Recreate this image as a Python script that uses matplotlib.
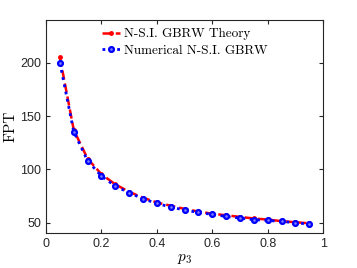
import matplotlib
matplotlib.use('Agg')
import matplotlib.pyplot as plt

# p3 values and first-passage times
p3 = [0.05, 0.10, 0.15, 0.20, 0.25, 0.30, 0.35, 0.40, 0.45, 0.50,
      0.55, 0.60, 0.65, 0.70, 0.75, 0.80, 0.85, 0.90, 0.95]
fpt_theory = [205, 137, 110, 95.5, 86, 79, 73.5, 69, 66, 63,
              60.5, 58.5, 57, 55.5, 54, 53, 51.5, 50.5, 49.5]
fpt_numerical = [200, 135.3, 108.1, 93.7, 84.4, 78.1, 72.5, 68.1, 64.7, 61.9,
                 59.7, 57.8, 55.9, 54.4, 52.8, 52.2, 51.2, 50.0, 48.7]

plt.rcParams['mathtext.fontset'] = 'cm'
plt.rcParams['font.family'] = ['Liberation Sans', 'DejaVu Sans']

fig = plt.figure(figsize=(3.57, 2.68), dpi=100)
ax = fig.add_axes([0.129, 0.129, 0.776, 0.796])

ax.plot(p3, fpt_theory, color='red', linestyle='--', linewidth=1.8,
        marker='.', markersize=5, label='N-S.I. GBRW Theory')
ax.plot(p3, fpt_numerical, color='blue', linestyle=':', linewidth=2,
        marker='o', markersize=3.5, markerfacecolor='#8080ff', markeredgewidth=1.6,
        label='Numerical N-S.I. GBRW')

ax.set_xlim(0, 1)
ax.set_ylim(40, 240)
ax.set_xticks([0, 0.2, 0.4, 0.6, 0.8, 1])
ax.set_xticklabels(['0', '0.2', '0.4', '0.6', '0.8', '1'])
ax.set_yticks([50, 100, 150, 200])
ax.tick_params(direction='in', top=True, right=True, labelsize=9,
               length=3, width=0.8, colors='#262626')
for s in ax.spines.values():
    s.set_color('#262626')
    s.set_linewidth(0.8)

ax.set_xlabel('$p_3$', fontsize=11, labelpad=1)
ax.set_ylabel('FPT', fontsize=11, family='cmr10', labelpad=2)

leg = ax.legend(loc='upper center', frameon=False, prop={'family': 'cmr10', 'size': 9.5},
                handlelength=1.4, handletextpad=0.3, borderaxespad=0.2, labelspacing=0.35,
                bbox_to_anchor=(0.5, 1.0))

fig.savefig('out.png', dpi=100)
